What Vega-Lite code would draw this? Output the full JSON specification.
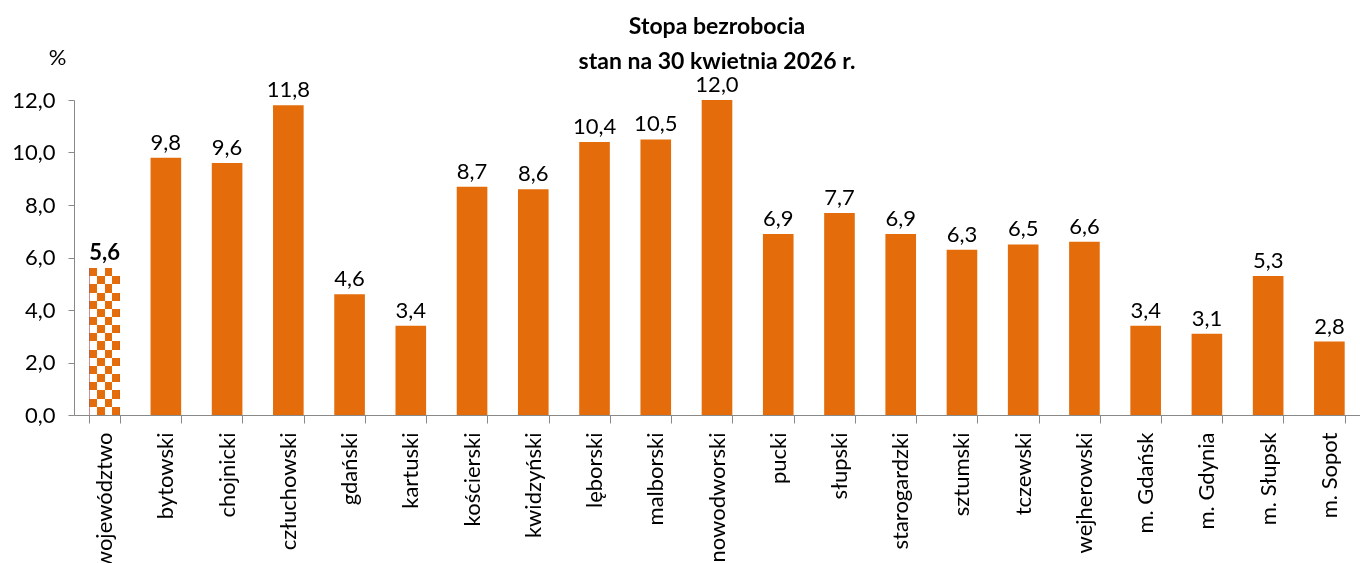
{
  "$schema": "https://vega.github.io/schema/vega-lite/v6.json",
  "width": 1286,
  "height": 315,
  "autosize": {"type": "none"},
  "padding": {"left": 74, "top": 100, "right": 0, "bottom": 148},
  "background": "white",
  "title": {
    "text": ["Stopa bezrobocia", "stan na 30 kwietnia 2026 r."],
    "font": "Lato",
    "fontSize": 23,
    "fontWeight": "bold",
    "color": "black",
    "anchor": "middle",
    "lineHeight": 35,
    "offset": -28
  },
  "data": {
    "values": [
      {"jednostka": "województwo", "stopa": 5.6},
      {"jednostka": "bytowski", "stopa": 9.8},
      {"jednostka": "chojnicki", "stopa": 9.6},
      {"jednostka": "człuchowski", "stopa": 11.8},
      {"jednostka": "gdański", "stopa": 4.6},
      {"jednostka": "kartuski", "stopa": 3.4},
      {"jednostka": "kościerski", "stopa": 8.7},
      {"jednostka": "kwidzyński", "stopa": 8.6},
      {"jednostka": "lęborski", "stopa": 10.4},
      {"jednostka": "malborski", "stopa": 10.5},
      {"jednostka": "nowodworski", "stopa": 12.0},
      {"jednostka": "pucki", "stopa": 6.9},
      {"jednostka": "słupski", "stopa": 7.7},
      {"jednostka": "starogardzki", "stopa": 6.9},
      {"jednostka": "sztumski", "stopa": 6.3},
      {"jednostka": "tczewski", "stopa": 6.5},
      {"jednostka": "wejherowski", "stopa": 6.6},
      {"jednostka": "m. Gdańsk", "stopa": 3.4},
      {"jednostka": "m. Gdynia", "stopa": 3.1},
      {"jednostka": "m. Słupsk", "stopa": 5.3},
      {"jednostka": "m. Sopot", "stopa": 2.8}
    ]
  },
  "encoding": {
    "x": {
      "field": "jednostka",
      "type": "nominal",
      "sort": null,
      "scale": {"paddingInner": 0.5, "paddingOuter": 0.25},
      "axis": {
        "title": null,
        "labelAngle": -90,
        "tickBand": "extent",
        "tickSize": 8,
        "labelPadding": 9,
        "domainColor": "#898989",
        "tickColor": "#898989",
        "labelFont": "Lato",
        "labelFontSize": 22,
        "labelColor": "black",
        "labelLimit": 300
      }
    },
    "y": {
      "field": "stopa",
      "type": "quantitative",
      "scale": {"domain": [0, 12], "nice": false},
      "axis": {
        "values": [0, 2, 4, 6, 8, 10, 12],
        "format": ".1f",
        "grid": false,
        "tickSize": 6,
        "labelPadding": 13,
        "domainColor": "#898989",
        "tickColor": "#898989",
        "labelFont": "Lato",
        "labelFontSize": 22,
        "labelColor": "black",
        "title": "%",
        "titleAngle": 0,
        "titleAlign": "center",
        "titleBaseline": "middle",
        "titleX": -17,
        "titleY": -43,
        "titleFont": "Lato",
        "titleFontSize": 22,
        "titleFontWeight": "normal",
        "titleColor": "black"
      }
    }
  },
  "layer": [
    {
      "transform": [{"filter": "datum.jednostka === 'województwo'"}],
      "mark": {
        "type": "bar",
        "fill": {
          "gradient": "linear", "x1": 0, "y1": 0, "x2": 1, "y2": 0,
          "stops": [
            {"offset": 0, "color": "black"}, {"offset": 0.25, "color": "black"},
            {"offset": 0.25, "color": "white"}, {"offset": 0.5, "color": "white"},
            {"offset": 0.5, "color": "black"}, {"offset": 0.75, "color": "black"},
            {"offset": 0.75, "color": "white"}, {"offset": 1, "color": "white"}
          ]
        }
      }
    },
    {
      "transform": [{"filter": "datum.jednostka === 'województwo'"}],
      "mark": {
        "type": "bar",
        "blend": "difference",
        "fill": {
          "gradient": "linear", "x1": 0, "y1": 0, "x2": 0, "y2": 1,
          "stops": [
            {"offset": 0, "color": "black"}, {"offset": 0.0556, "color": "black"},
            {"offset": 0.0556, "color": "white"}, {"offset": 0.1111, "color": "white"},
            {"offset": 0.1111, "color": "black"}, {"offset": 0.1667, "color": "black"},
            {"offset": 0.1667, "color": "white"}, {"offset": 0.2222, "color": "white"},
            {"offset": 0.2222, "color": "black"}, {"offset": 0.2778, "color": "black"},
            {"offset": 0.2778, "color": "white"}, {"offset": 0.3333, "color": "white"},
            {"offset": 0.3333, "color": "black"}, {"offset": 0.3889, "color": "black"},
            {"offset": 0.3889, "color": "white"}, {"offset": 0.4444, "color": "white"},
            {"offset": 0.4444, "color": "black"}, {"offset": 0.5, "color": "black"},
            {"offset": 0.5, "color": "white"}, {"offset": 0.5556, "color": "white"},
            {"offset": 0.5556, "color": "black"}, {"offset": 0.6111, "color": "black"},
            {"offset": 0.6111, "color": "white"}, {"offset": 0.6667, "color": "white"},
            {"offset": 0.6667, "color": "black"}, {"offset": 0.7222, "color": "black"},
            {"offset": 0.7222, "color": "white"}, {"offset": 0.7778, "color": "white"},
            {"offset": 0.7778, "color": "black"}, {"offset": 0.8333, "color": "black"},
            {"offset": 0.8333, "color": "white"}, {"offset": 0.8889, "color": "white"},
            {"offset": 0.8889, "color": "black"}, {"offset": 0.9444, "color": "black"},
            {"offset": 0.9444, "color": "white"}, {"offset": 1, "color": "white"}
          ]
        }
      }
    },
    {
      "transform": [{"filter": "datum.jednostka === 'województwo'"}],
      "mark": {"type": "bar", "color": "#E46C0A", "blend": "lighten"}
    },
    {
      "transform": [{"filter": "datum.jednostka !== 'województwo'"}],
      "mark": {"type": "bar", "color": "#E46C0A"}
    },
    {
      "transform": [{"filter": "datum.jednostka === 'województwo'"}],
      "mark": {"type": "text", "baseline": "bottom", "dy": -3, "font": "Lato", "fontSize": 22, "fontWeight": "bold", "color": "black"},
      "encoding": {"text": {"field": "stopa", "type": "quantitative", "format": ".1f"}}
    },
    {
      "transform": [{"filter": "datum.jednostka !== 'województwo'"}],
      "mark": {"type": "text", "baseline": "bottom", "dy": -3, "font": "Lato", "fontSize": 22, "color": "black"},
      "encoding": {"text": {"field": "stopa", "type": "quantitative", "format": ".1f"}}
    }
  ],
  "config": {
    "view": {"stroke": null},
    "locale": {
      "number": {"decimal": ",", "thousands": " ", "grouping": [3], "currency": ["", " zł"]}
    }
  }
}
